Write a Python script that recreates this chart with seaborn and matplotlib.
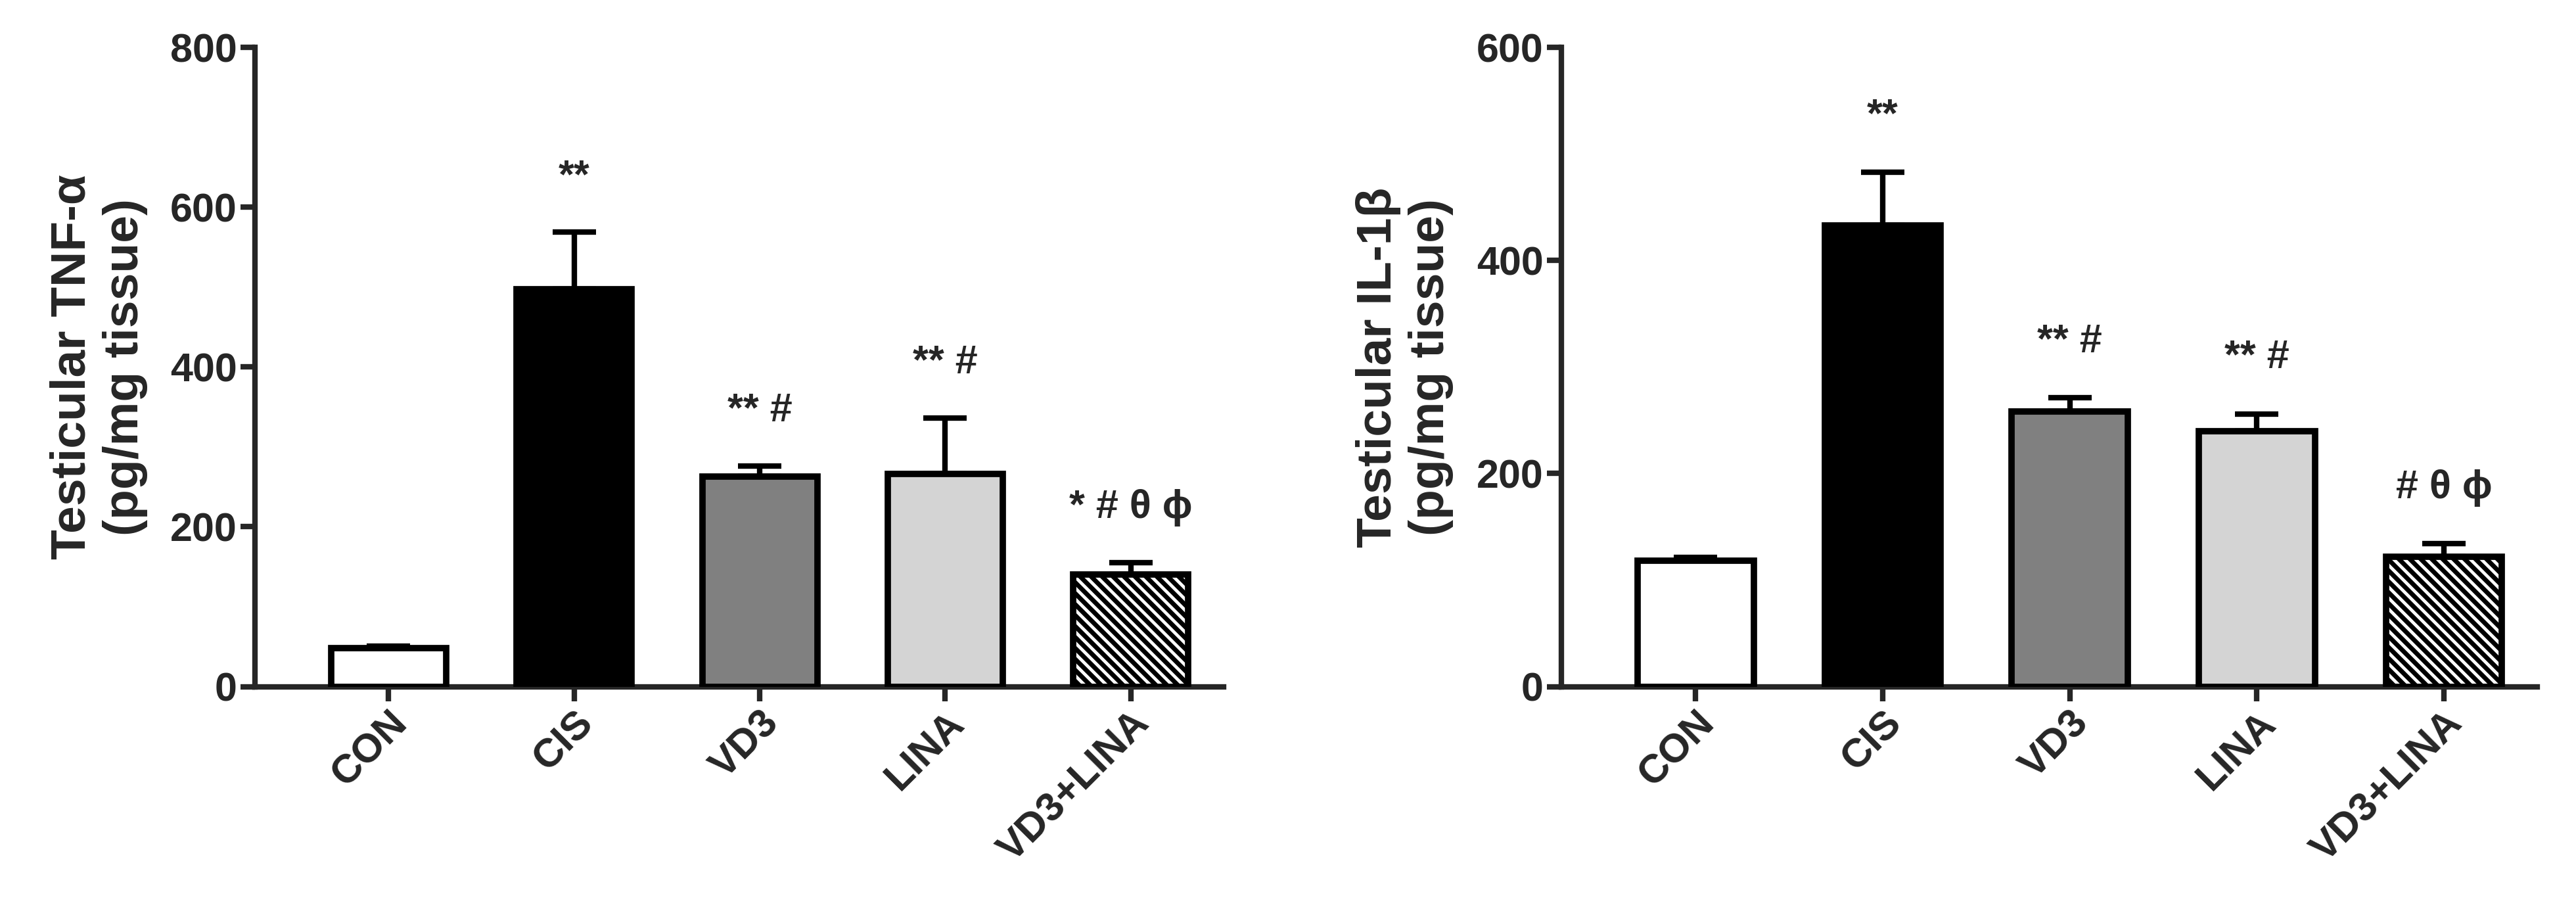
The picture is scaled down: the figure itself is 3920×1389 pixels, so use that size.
import matplotlib
matplotlib.use("Agg")
import matplotlib.pyplot as plt
import seaborn as sns
import pandas as pd

sns.set_style("ticks")
plt.rcParams['font.family'] = ['Liberation Sans', 'DejaVu Sans']
plt.rcParams['font.weight'] = 'bold'
plt.rcParams['hatch.linewidth'] = 5

groups = ["CON", "CIS", "VD3", "LINA", "VD3+LINA"]
tnf_mean = [48, 497, 263, 266, 140]
tnf_err = [3, 72, 13, 70, 15]
tnf_sig = ["", "**", "** #", "** #", "* # θ ϕ"]
il_mean = [118, 433, 258, 240, 122]
il_err = [3, 50, 13, 16, 12]
il_sig = ["", "**", "** #", "** #", "# θ ϕ"]
colors = ["white", "black", "#808080", "#d4d4d4", "white"]

fig = plt.figure(figsize=(39.2, 13.89), dpi=100)
ax1 = fig.add_axes([0.099, 0.248, 0.376, 0.70])
ax2 = fig.add_axes([0.606, 0.248, 0.379, 0.70])

def panel(ax, mean, err, sig, ymax, step, ylabel, off):
    df = pd.DataFrame({"g": groups, "v": mean})
    sns.barplot(data=df, x="g", y="v", hue="g", palette=colors, legend=False,
                edgecolor="black", linewidth=7, width=0.62, ax=ax, zorder=3)
    for i, p in enumerate(ax.patches):
        if i == 4:
            p.set_hatch("\\\\")
    ax.errorbar(range(5), mean, yerr=[[0]*5, err], fmt="none", ecolor="black",
                elinewidth=6, capsize=24, capthick=6, zorder=2)
    for i, s in enumerate(sig):
        if s:
            ax.text(i, mean[i] + err[i] + off, s, ha="center", va="bottom",
                    fontsize=44, fontweight="bold")
    ax.set_ylim(0, ymax)
    ax.set_yticks(range(0, ymax + 1, step))
    ax.set_xlim(-0.72, 4.5)
    ax.set_xlabel("")
    ax.set_ylabel(ylabel, fontsize=54, fontweight="bold", labelpad=25)
    ax.tick_params(axis="both", labelsize=44, width=6, length=16)
    for lab in ax.get_xticklabels():
        lab.set_rotation(45); lab.set_ha("right"); lab.set_rotation_mode("anchor")
        lab.set_fontweight("bold")
    for lab in ax.get_yticklabels():
        lab.set_fontweight("bold")
    sns.despine(ax=ax)
    for s in ["left", "bottom"]:
        ax.spines[s].set_linewidth(6)

panel(ax1, tnf_mean, tnf_err, tnf_sig, 800, 200, "Testicular TNF-α\n(pg/mg tissue)", 45)
panel(ax2, il_mean, il_err, il_sig, 600, 200, "Testicular IL-1β\n(pg/mg tissue)", 35)

fig.savefig("out.png", dpi=100)
